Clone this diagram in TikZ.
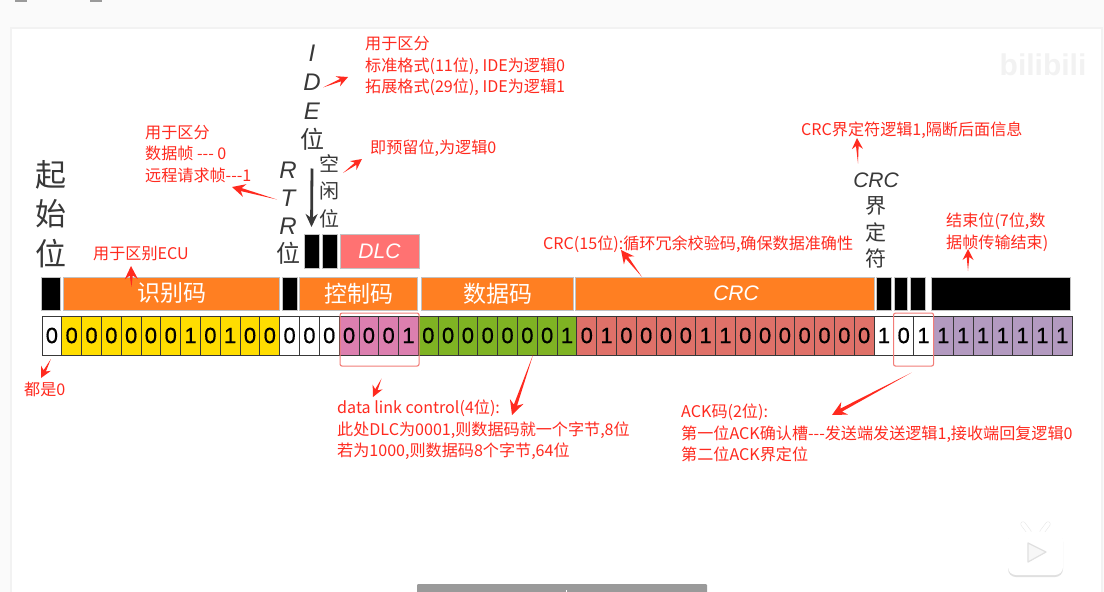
\documentclass[tikz,border=0pt]{standalone}
\usepackage{fontspec}
\setmainfont{Noto Sans CJK SC}
\newfontfamily\latinfont{Liberation Sans}
\newfontfamily\bitfont[FakeBold=0.5]{Liberation Sans}
\usetikzlibrary{arrows.meta,positioning,calc}
\definecolor{alertred}{HTML}{FF2A1F}
\definecolor{markred}{HTML}{F27D78}
\definecolor{charcoal}{HTML}{383838}
\definecolor{fieldorange}{HTML}{FF7F22}
\definecolor{dlcsalmon}{HTML}{FF7272}
\definecolor{yolk}{HTML}{FFDD00}
\definecolor{orchid}{HTML}{DC7FAF}
\definecolor{leaf}{HTML}{7FB323}
\definecolor{brick}{HTML}{DF7169}
\definecolor{lilac}{HTML}{B39AC0}
\definecolor{barline}{HTML}{9A9A9A}
\newcommand{\ital}[1]{{\latinfont\itshape #1}}
\tikzset{
  bitcell/.style={
    draw=charcoal,
    line width=0.9pt,
    inner sep=0pt,
    outer sep=0pt,
    minimum width=19.81pt,
    minimum height=39pt,
    font=\bitfont\fontsize{22}{22}\selectfont
  },
  fieldbox/.style={
    draw=barline!60,
    line width=0.5pt,
    fill=fieldorange,
    text=white,
    inner sep=0pt,
    outer sep=0pt,
    minimum height=33pt,
    font=\fontsize{23}{23}\selectfont
  },
  blackbox/.style={
    fieldbox,
    fill=black
  },
  sidelabel/.style={
    inner sep=0pt,
    align=center,
    text=charcoal
  },
  rednote/.style={
    anchor=west,
    inner sep=0pt,
    align=left,
    yshift=-1pt,
    text=alertred,
    font=\fontsize{16.1}{21.7}\selectfont
  },
  markbox/.style={
    draw=markred,
    line width=1.1pt,
    rounded corners=2pt,
    anchor=north west,
    minimum height=53pt
  },
  wedgearrow/.style={
    draw=none,
    fill=alertred,
    to path={
      -- ($(\tikztotarget)!#1*8pt!(\tikztostart)!#1*1.3pt!90:(\tikztostart)$)
      -- ($(\tikztotarget)!#1*11pt!(\tikztostart)!#1*5.5pt!90:(\tikztostart)$)
      -- (\tikztotarget)
      -- ($(\tikztotarget)!#1*11pt!(\tikztostart)!#1*5.5pt!-90:(\tikztostart)$)
      -- ($(\tikztotarget)!#1*8pt!(\tikztostart)!#1*1.3pt!-90:(\tikztostart)$)
      -- cycle
    }
  },
  wedgearrow/.default=1,
  flowarrow/.style={-{Stealth[length=13pt,width=12pt]},line width=2.8pt,draw=charcoal}
}
\begin{document}
\begin{tikzpicture}[x=1pt,y=-1pt,node distance=3pt]
\useasboundingbox (0,0) rectangle (1104,592);
% page and video frame
\fill[white!98!black] (0,0) rectangle (1104,592);
\fill[barline] (15,0) rectangle (27,1.5);
\fill[barline] (90,0) rectangle (102,1.5);
\draw[white!95!black,line width=1.5pt,fill=white] (11,28) rectangle (1102,594);
\node[text=white!95!black,font=\latinfont\bfseries\fontsize{30}{30}\selectfont] (logo) at (1043,65) {bilibili};

% field row
\node[blackbox,minimum width=19pt] (sofbox) at (51,293.5) {};
\node[fieldbox,minimum width=216pt,right=of sofbox] (idbox) {识别码};
\node[blackbox,minimum width=15pt,right=of idbox] (rtrbox) {};
\node[fieldbox,minimum width=118pt,right=2pt of rtrbox] (ctrlbox) {控制码};
\node[fieldbox,minimum width=152pt,right=4pt of ctrlbox] (databox) {数据码};
\node[fieldbox,minimum width=299pt,right=2pt of databox,font=\fontsize{21}{21}\selectfont] (crcbox) {\hspace*{22pt}\ital{CRC}};
\node[blackbox,minimum width=15pt,right=2pt of crcbox] (delimbox) {};
\node[blackbox,minimum width=13pt,right=of delimbox] (ackbox) {};
\node[blackbox,minimum width=15pt,right=of ackbox] (ackdelimbox) {};
\node[blackbox,minimum width=139pt,right=6pt of ackdelimbox] (eofbox) {};

% control bits above the row
\node[blackbox,minimum width=15pt,minimum height=34pt] (idegap) at (311.5,251) {};
\node[blackbox,minimum width=15pt,minimum height=34pt,right=of idegap] (sparegap) {};
\node[fieldbox,fill=dlcsalmon,minimum width=79pt,minimum height=34pt,font=\fontsize{21}{21}\selectfont] (dlcbox) at (379.5,251) {\ital{DLC}};

% bit row
\node[bitcell,fill=white] (b0) at (51.9,335.5) {0};
\foreach \bit/\col [count=\n from 1,remember=\n as \p (initially 0)] in {
  0/yolk,0/yolk,0/yolk,0/yolk,0/yolk,0/yolk,1/yolk,0/yolk,1/yolk,0/yolk,0/yolk,
  0/white,0/white,0/white,
  0/orchid,0/orchid,0/orchid,1/orchid,
  0/leaf,0/leaf,0/leaf,0/leaf,0/leaf,0/leaf,0/leaf,1/leaf,
  0/brick,1/brick,0/brick,0/brick,0/brick,0/brick,1/brick,1/brick,
  0/brick,0/brick,0/brick,0/brick,0/brick,0/brick,0/brick,
  1/white,0/white,1/white,
  1/lilac,1/lilac,1/lilac,1/lilac,1/lilac,1/lilac,1/lilac}
  \node[bitcell,fill=\col,right=0pt of b\p] (b\n) {\bit};
\node[markbox,minimum width=79pt] (dlcmark) at (339.5,312.5) {};
\node[markbox,minimum width=40pt] (ackmark) at (893,312.5) {};

% black labels
\node[sidelabel,font=\fontsize{31}{39.5}\selectfont] (soflabel) at (51,214) {起\\始\\位};
\node[sidelabel,font=\fontsize{24}{29}\selectfont] (idelabel) at (312,97.5) {\ital{I}\\\ital{D}\\\ital{E}\\位};
\node[sidelabel,font=\fontsize{24}{28}\selectfont] (rtrlabel) at (288,213.5) {\ital{R}\\\ital{T}\\\ital{R}\\位};
\node[sidelabel,font=\fontsize{20}{27.5}\selectfont] (sparelabel) at (329,191) {空\\闲\\位};
\node[sidelabel,font=\fontsize{21}{26.6}\selectfont] (delimlabel) at (876,220.5) {\ital{CRC}\\界\\定\\符};

% red notes
\node[rednote] (idenote) at (365,65) {用于区分\\标准格式(11位), IDE为逻辑0\\拓展格式(29位), IDE为逻辑1};
\node[rednote] (rtrnote) at (145,153) {用于区分\\数据帧 -{}-{}- 0\\远程请求帧-{}-{}-1};
\node[rednote] (idnote) at (93,253) {用于区别ECU};
\node[rednote] (sparenote) at (370,147) {即预留位,为逻辑0};
\node[rednote] (delimnote) at (801,129) {CRC界定符逻辑1,隔断后面信息};
\node[rednote] (crcnote) at (543,243) {CRC(15位):循环冗余校验码,确保数据准确性};
\node[rednote] (eofnote) at (946,231) {结束位(7位,数\\据帧传输结束)};
\node[rednote] (sofnote) at (24,388) {都是0};
\node[rednote] (dlcnote) at (337,429) {data link control(4位):\\此处DLC为0001,则数据码就一个字节,8位\\若为1000,则数据码8个字节,64位};
\node[rednote] (acknote) at (681,432) {ACK码(2位):\\第一位ACK确认槽-{}-{}-发送端发送逻辑1,接收端回复逻辑0\\第二位ACK界定位};

% arrows
\draw[flowarrow] ([shift={(0,71)}]idelabel.center) -- ([shift={(0,-7)}]idegap.north);
\path[wedgearrow] ([shift={(11,-10)}]idelabel.center) to ([shift={(-17,11)}]idenote.west);
\path[wedgearrow] ([shift={(14,-18)}]sparelabel.center) to ([shift={(-8,11)}]sparenote.west);
\path[wedgearrow=1.2] ([shift={(-11,-14)}]rtrlabel.center) to ([shift={(87,33)}]rtrnote.west);
\path[wedgearrow=1.2] ([shift={(-40,10)}]idbox.north) to ([shift={(38,12)}]idnote.west);
\path[wedgearrow] ([shift={(-1,4)}]b0.south) to ([shift={(17,-11)}]sofnote.west);
\path[wedgearrow] ([shift={(2,12)}]dlcmark.south) to ([shift={(36,-33)}]dlcnote.west);
\path[wedgearrow=1.3] ([shift={(6,-1)}]b24.south) to ([shift={(175,-15)}]dlcnote.west);
\path[wedgearrow=1.3] ([shift={(-2,6)}]ackmark.south) to ([shift={(151,-18)}]acknote.west);
\path[wedgearrow=1.2] ([shift={(-83,0)}]crcbox.north) to ([shift={(78,6)}]crcnote.west);
\path[wedgearrow] ([shift={(-18,-57)}]delimlabel.center) to ([shift={(56,8)}]delimnote.west);
\path[wedgearrow] ([shift={(-33,-6)}]eofbox.north) to ([shift={(22,17)}]eofnote.west);

% player controls
\fill[barline,rounded corners=1pt] (417,596) rectangle (707,584);
\fill[white] (565.5,590) rectangle (567,592);
\fill[white!88!black,rounded corners=8pt] (1008,534) rectangle (1063,577);
\draw[white!90!black,line width=5pt,line cap=round] (1029,532) -- (1023,524);
\draw[white!90!black,line width=5pt,line cap=round] (1042,532) -- (1048,524);
\draw[white,line width=4pt,line cap=round] (1029,532) -- (1023,524);
\draw[white,line width=4pt,line cap=round] (1042,532) -- (1048,524);
\fill[white,rounded corners=8pt] (1008,532) rectangle (1063,575);
\draw[white!88!black,fill=white!97!black,line width=1.2pt,line join=round] (1028,543) -- (1046,552) -- (1028,562) -- cycle;
\end{tikzpicture}
\end{document}
